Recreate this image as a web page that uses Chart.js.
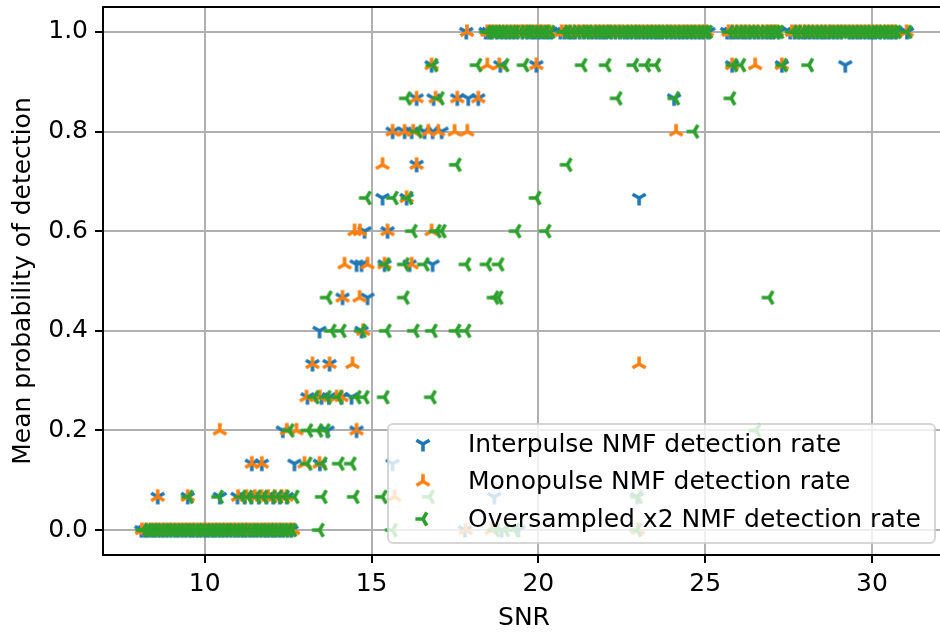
<!DOCTYPE html>
<html>
<head>
<meta charset="utf-8">
<script src="https://cdn.jsdelivr.net/npm/chart.js@4"></script>
<style>
  html, body { margin: 0; padding: 0; overflow: hidden; background: #fff; }
  #wrap { width: 950px; height: 635px; }
</style>
</head>
<body>
<div id="wrap"><canvas id="graph"></canvas></div>
<script>
// detection rate levels (hits out of 15) and the SNR values seen at each level
const interRows = [
    [1.0, [17.84, 18.42, 18.52, 18.61, 18.76, 18.9, 19.02, 19.13, 19.25, 19.37, 19.52, 19.66, 19.8, 19.9, 20.02, 20.15, 20.27, 20.38,
           20.66, 20.78, 20.91, 21.0, 21.1, 21.24, 21.37, 21.5, 21.62, 21.74, 21.85, 21.95, 22.04, 22.18, 22.31, 22.45, 22.58, 22.68,
           22.79, 22.92, 23.03, 23.15, 23.26, 23.38, 23.5, 23.6, 23.71, 23.85, 23.98, 24.1, 24.22, 24.33, 24.45, 24.58, 24.7, 24.82,
           24.93, 25.1, 25.66, 25.77, 25.88, 26.0, 26.13, 26.24, 26.35, 26.48, 26.6, 26.72, 26.84, 26.95, 27.05, 27.2, 27.55, 27.68,
           27.8, 27.92, 28.02, 28.14, 28.27, 28.38, 28.5, 28.6, 28.71, 28.84, 28.96, 29.08, 29.32, 29.43, 29.55, 29.65, 29.78, 29.9,
           30.0, 30.1, 30.24, 30.38, 30.5, 30.6, 30.72, 31.05]],
    [0.9333, [16.8, 18.86, 19.94, 25.81, 27.3, 29.2]],
    [0.8667, [16.35, 16.86, 17.57, 17.9, 18.2, 24.07]],
    [0.8, [15.63, 15.99, 16.2, 16.59, 16.83, 17.1]],
    [0.7333, [16.35]],
    [0.6667, [15.33, 16.05, 23.02]],
    [0.6, [14.79, 15.48]],
    [0.5333, [14.55, 14.7, 15.39, 16.14, 16.83]],
    [0.4667, [14.13, 14.88]],
    [0.4, [13.44, 14.7]],
    [0.3333, [13.23, 13.74]],
    [0.2667, [13.08, 13.5, 13.72, 14.1, 14.4]],
    [0.2, [12.34, 13.68, 14.55]],
    [0.1333, [11.41, 11.71, 12.69, 13.45, 15.63]],
    [0.0667, [8.59, 9.49, 10.45, 10.98, 11.2, 11.4, 11.62, 11.85, 12.05, 12.25, 12.46, 18.68, 22.96]],
    [0.0, [8.1, 8.2, 8.3, 8.42, 8.52, 8.64, 8.75, 8.86, 8.98, 9.1, 9.2, 9.32, 9.43, 9.55, 9.65, 9.77, 9.88, 10.0, 10.1, 10.22,
           10.32, 10.44, 10.55, 10.66, 10.78, 10.9, 11.0, 11.12, 11.22, 11.34, 11.45, 11.56, 11.68, 11.8, 11.9, 12.02, 12.12, 12.24,
           12.35, 12.48, 12.6, 17.8, 18.9, 19.4]]
];
const monoRows = [
    [1.0, [17.86, 18.47, 18.58, 18.7, 18.82, 18.95, 19.08, 19.2, 19.32, 19.45, 19.56, 19.66, 19.78, 19.9, 20.02, 20.12, 20.24, 20.33,
           20.7, 20.82, 20.95, 21.08, 21.2, 21.32, 21.43, 21.56, 21.7, 21.82, 21.93, 22.05, 22.15, 22.28, 22.4, 22.52, 22.66, 22.78,
           22.9, 23.0, 23.12, 23.25, 23.37, 23.48, 23.6, 23.72, 23.85, 23.96, 24.08, 24.2, 24.32, 24.44, 24.56, 24.68, 24.8, 24.92,
           25.05, 25.7, 25.82, 25.95, 26.08, 26.2, 26.32, 26.45, 26.58, 26.72, 26.84, 26.95, 27.05, 27.15, 27.6, 27.72, 27.85, 27.98,
           28.1, 28.22, 28.35, 28.48, 28.6, 28.72, 28.82, 28.95, 29.07, 29.18, 29.3, 29.42, 29.55, 29.66, 29.78, 29.9, 30.02, 30.14,
           30.25, 30.38, 30.5, 30.6, 30.7, 31.04]],
    [0.9333, [16.8, 18.47, 18.83, 19.94, 25.81, 26.5, 27.3]],
    [0.8667, [16.35, 16.92, 17.57, 18.2]],
    [0.8, [15.63, 15.99, 16.25, 16.7, 17.0, 17.49, 17.87, 24.13]],
    [0.7333, [15.33, 16.35]],
    [0.6667, [16.05]],
    [0.6, [14.49, 14.65, 15.48, 16.8]],
    [0.5333, [14.19, 14.88, 15.39, 16.2]],
    [0.4667, [14.13, 14.64]],
    [0.4, [14.75]],
    [0.3333, [13.23, 13.74, 14.43, 23.02]],
    [0.2667, [13.05, 13.45, 13.95, 14.1]],
    [0.2, [10.45, 12.46, 12.75, 14.55]],
    [0.1333, [11.41, 11.71, 12.99, 13.44]],
    [0.0667, [8.59, 9.49, 11.0, 11.25, 11.5, 11.7, 11.9, 12.1, 12.3, 12.45, 15.69]],
    [0.0, [8.12, 8.25, 8.38, 8.5, 8.6, 8.72, 8.82, 8.94, 9.05, 9.16, 9.28, 9.4, 9.5, 9.62, 9.72, 9.84, 9.95, 10.06, 10.18, 10.3,
           10.4, 10.52, 10.62, 10.74, 10.85, 10.96, 11.08, 11.2, 11.3, 11.42, 11.52, 11.64, 11.75, 11.86, 11.98, 12.08, 12.2, 12.3,
           12.42, 12.54, 12.65, 17.82, 18.6, 22.98]]
];
const overRows = [
    [1.0, [18.45, 18.55, 18.66, 18.76, 18.85, 18.96, 19.08, 19.2, 19.3, 19.45, 19.58, 19.66, 19.75, 19.88, 20.0, 20.12, 20.22, 20.36,
           20.75, 20.86, 21.0, 21.14, 21.28, 21.4, 21.5, 21.64, 21.76, 21.88, 22.0, 22.1, 22.22, 22.35, 22.48, 22.6, 22.72, 22.84,
           22.95, 23.08, 23.2, 23.32, 23.44, 23.55, 23.66, 23.78, 23.9, 24.02, 24.15, 24.28, 24.4, 24.52, 24.62, 24.75, 24.87, 24.98,
           25.08, 25.72, 25.86, 26.0, 26.12, 26.26, 26.38, 26.5, 26.64, 26.78, 26.9, 27.0, 27.12, 27.22, 27.62, 27.75, 27.9, 28.02,
           28.15, 28.28, 28.4, 28.52, 28.66, 28.78, 28.9, 29.0, 29.12, 29.24, 29.36, 29.48, 29.6, 29.72, 29.83, 29.95, 30.06, 30.18,
           30.3, 30.4, 30.52, 30.64, 30.74, 31.06]],
    [0.9333, [16.85, 18.17, 18.98, 19.58, 21.32, 22.04, 22.87, 23.23, 23.53, 25.84, 26.08, 27.33, 28.11]],
    [0.8667, [16.05, 17.04, 22.37, 24.1, 25.78]],
    [0.8, [16.38, 24.67]],
    [0.7333, [17.55, 20.87]],
    [0.6667, [14.85, 15.66, 16.1, 19.94]],
    [0.6, [16.23, 16.95, 17.1, 19.34, 20.24]],
    [0.5333, [15.42, 15.99, 16.59, 17.84, 18.47, 18.83]],
    [0.4667, [13.68, 15.99, 18.68, 18.8, 26.92]],
    [0.4, [13.8, 14.1, 14.7, 15.45, 16.29, 16.83, 17.54, 17.84]],
    [0.2667, [13.29, 13.65, 14.0, 14.55, 14.79, 15.39, 16.8]],
    [0.2, [12.54, 13.1, 13.4, 13.62, 26.53]],
    [0.1333, [13.08, 13.53, 14.04, 14.4]],
    [0.0667, [9.52, 10.42, 11.1, 11.3, 11.55, 11.75, 12.0, 12.2, 12.4, 12.69, 13.53, 14.49, 15.33, 16.74, 22.98]],
    [0.0, [8.15, 8.26, 8.35, 8.46, 8.56, 8.68, 8.8, 8.9, 9.02, 9.14, 9.25, 9.36, 9.47, 9.58, 9.7, 9.8, 9.92, 10.04, 10.15, 10.26,
           10.37, 10.48, 10.6, 10.7, 10.82, 10.94, 11.05, 11.16, 11.28, 11.4, 11.5, 11.62, 11.72, 11.84, 11.95, 12.06, 12.18, 12.28,
           12.38, 12.5, 12.62, 13.44, 15.63, 18.7, 19.0, 19.3, 22.96]]
];
const seriesLabels = ['Interpulse NMF detection rate', 'Monopulse NMF detection rate', 'Oversampled x2 NMF detection rate'];
const xTicks = [10, 15, 20, 25, 30];
const yTicks = [0, 0.2, 0.4, 0.6, 0.8, 1.0];

const colors = ['#1f77b4', '#ff7f0e', '#2ca02c'];
const FONT = '"DejaVu Sans", sans-serif';

// matplotlib-like tri markers: one leg along 'angle', the other two 120° apart
function triMarker(color, angle) {
    const c = document.createElement('canvas');
    c.width = 22;
    c.height = 22;
    const g = c.getContext('2d');
    g.strokeStyle = color;
    g.lineWidth = 3.6;
    g.translate(11, 11);
    g.beginPath();
    for (let i = 0; i < 3; i++) {
        const a = angle + i * 2 * Math.PI / 3;
        g.moveTo(0, 0);
        g.lineTo(7.6 * Math.cos(a), 7.6 * Math.sin(a));
    }
    g.stroke();
    return c;
}
const markers = [
    triMarker(colors[0], Math.PI / 2),   // tri_down
    triMarker(colors[1], -Math.PI / 2),  // tri_up
    triMarker(colors[2], Math.PI)        // tri_left
];

function toPoints(rows) {
    return rows.flatMap(([rate, snrs]) => snrs.map(s => ({ x: s, y: rate })));
}

// later series drawn on top, like matplotlib (lower order = drawn last in Chart.js)
const datasets = [interRows, monoRows, overRows].map((rows, i) => ({
    label: seriesLabels[i],
    data: toPoints(rows),
    order: 2 - i,
    pointStyle: markers[i],
    borderColor: colors[i],
    backgroundColor: colors[i],
    showLine: false
}));

// legend box in lower right, plus top spine
const extras = {
    id: 'extras',
    afterDraw(chart) {
        const ctx = chart.ctx;
        const a = chart.chartArea;
        ctx.save();
        ctx.strokeStyle = '#000';
        ctx.lineWidth = 2;
        ctx.beginPath();
        ctx.moveTo(a.left, a.top);
        ctx.lineTo(a.right, a.top);
        ctx.stroke();

        const bx = 388, by = 424, bw = 547, bh = 119;
        ctx.beginPath();
        ctx.roundRect(bx, by, bw, bh, 5);
        ctx.fillStyle = 'rgba(255,255,255,0.8)';
        ctx.fill();
        ctx.strokeStyle = 'rgba(204,204,204,0.8)';
        ctx.lineWidth = 2;
        ctx.stroke();

        ctx.font = '25px ' + FONT;
        ctx.fillStyle = '#000';
        ctx.textBaseline = 'middle';
        seriesLabels.forEach((t, i) => {
            const y = 444 + i * 37.5;
            ctx.drawImage(markers[i], 423 - 11, y - 11);
            ctx.fillText(t, 468, y + 1);
        });
        ctx.restore();
    }
};

const gridOpts = { color: '#b0b0b0', lineWidth: 2, tickLength: 8, tickColor: '#000', tickWidth: 2 };

new Chart(document.getElementById('graph'), {
    type: 'scatter',
    data: { datasets: datasets },
    plugins: [extras],
    options: {
        responsive: true,
        maintainAspectRatio: false,
        animation: false,
        layout: { padding: { top: 7, right: 4, left: 0, bottom: 0 } },
        plugins: { legend: { display: false }, tooltip: { enabled: false } },
        scales: {
            x: {
                type: 'linear',
                min: 6.95,
                max: 32.19,
                z: 1,
                afterBuildTicks: s => { s.ticks = xTicks.map(v => ({ value: v })); },
                afterFit: s => { s.height = 80; s.paddingLeft = 0; s.paddingRight = 0; },
                grid: gridOpts,
                border: { color: '#000', width: 2 },
                ticks: { color: '#000', font: { family: FONT, size: 25 }, padding: 6, maxRotation: 0 },
                title: { display: true, text: 'SNR', color: '#000', font: { family: FONT, size: 25 }, padding: { top: 0, bottom: 2 } }
            },
            y: {
                type: 'linear',
                min: -0.05,
                max: 1.05,
                z: 1,
                afterBuildTicks: s => { s.ticks = yTicks.map(v => ({ value: v })); },
                afterFit: s => { s.width = 103; s.paddingTop = 0; s.paddingBottom = 0; },
                grid: gridOpts,
                border: { color: '#000', width: 2 },
                ticks: { color: '#000', font: { family: FONT, size: 25 }, padding: 7, callback: v => v.toFixed(1) },
                title: { display: true, text: 'Mean probability of detection', color: '#000', font: { family: FONT, size: 25 }, padding: { top: 8, bottom: 0 } }
            }
        }
    }
});
</script>
</body>
</html>
